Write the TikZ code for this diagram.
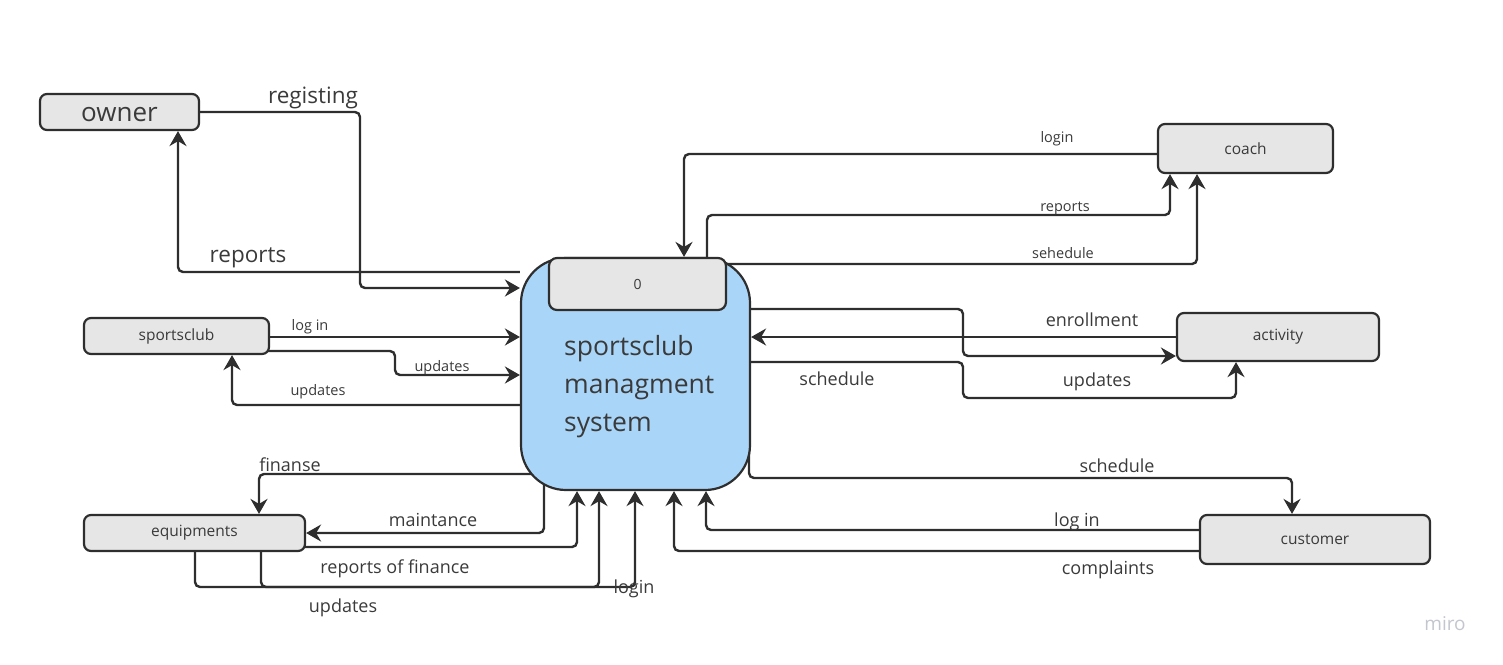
\documentclass[tikz,border=0pt]{standalone}
\usepackage{fontspec}
\setmainfont{Open Sans}
\usetikzlibrary{arrows.meta,backgrounds}
\definecolor{ln}{HTML}{2E2E2E}
\definecolor{boxgray}{HTML}{E6E6E6}
\definecolor{mainblue}{HTML}{A9D6F8}
\definecolor{txt}{HTML}{3A3A3A}
\definecolor{wm}{HTML}{C4C6CF}
\newcommand{\fsz}[1]{\fontsize{#1}{#1}\selectfont}
\begin{document}
\begin{tikzpicture}[x=1pt,y=-1pt,
  ent/.style={draw=ln, line width=2.2pt, fill=boxgray, rounded corners=7pt, inner sep=0pt, text=txt},
  flow/.style={draw=ln, line width=2.4pt, rounded corners=5pt, -{Stealth[length=15pt,width=17pt,inset=5pt]}},
  lbl/.style={text=txt, inner sep=0pt},
  big/.style={lbl, font=\fsz{22.5}},
  med/.style={lbl, font=\fsz{18}},
  sml/.style={lbl, font=\fsz{14.5}},
  ntx/.style={font=\fsz{15.5}}]
\useasboundingbox (0,0) rectangle (1503,664);

% entities
\node[ent, minimum width=159pt, minimum height=36pt, font=\fsz{26}, text height=20pt] (owner) at (119.5,112) {owner};
\node[ent, minimum width=175pt, minimum height=49pt, ntx] (coach) at (1245.5,148.5) {coach};
\node[ent, minimum width=202pt, minimum height=48pt, ntx] (activity) at (1278,337) {activity};
\node[ent, minimum width=185pt, minimum height=36pt, ntx] (sportsclub) at (176.5,336) {sportsclub};
\node[ent, minimum width=221pt, minimum height=36pt, ntx] (equipments) at (194.5,533) {equipments};
\node[ent, minimum width=230pt, minimum height=49pt, ntx] (customer) at (1315,539.5) {customer};

% main process
\node[draw=ln, line width=2.2pt, fill=mainblue, rounded corners=45pt, minimum width=229pt, minimum height=232pt, inner sep=0pt] (main) at (635.5,374) {};
\node[ent, minimum width=177pt, minimum height=52pt, rounded corners=8pt, font=\fsz{14}] (zero) at (637.5,284) {0};
\node[lbl, font={\fontsize{26.5}{38}\selectfont}, align=left, anchor=base west, text=txt] (maintext) at (564,431)
  {sportsclub\\managment\\system};

\begin{scope}[on background layer]
% owner
\draw[flow] (owner.east) -| (360,288) -- (main.west |- 0,288);
\draw[flow] (main.west |- 0,272) -| (owner.south -| 178,0);
% coach
\draw[flow] (coach.center |- 0,154) -| (zero.north -| 684,0);
\draw[flow] (zero.center -| 707,0) |- (1170,215) -- (coach.south -| 1170,0);
\draw[flow] (zero.center |- 0,264) -| (coach.south -| 1197,0);
% activity
\draw[flow] (main.center |- 0,309) -| (963,356) -- (activity.west |- 0,356);
\draw[flow] (activity.center |- 0,337) -- (main.east |- 0,337);
\draw[flow] (main.center |- 0,362) -| (963,398) -| (activity.south -| 1236,0);
% sportsclub
\draw[flow] (sportsclub.center |- 0,337) -- (main.west |- 0,337);
\draw[flow] (sportsclub.center |- 0,351) -| (395,375) -- (main.west |- 0,375);
\draw[flow] (main.center |- 0,405) -| (sportsclub.south -| 232,0);
% equipments
\draw[flow] (main.center |- 0,474) -| (equipments.north -| 259,0);
\draw[flow] (main.center -| 544,0) |- (equipments.east |- 0,533);
\draw[flow] (equipments.center |- 0,547) -| (main.south -| 577,0);
\draw[flow] (equipments.center -| 261,0) |- (599,587) -- (main.south -| 599,0);
\draw[flow] (equipments.center -| 195,0) |- (635,587) -- (main.south -| 635,0);
% customer
\draw[flow] (customer.center |- 0,530) -| (main.south -| 706,0);
\draw[flow] (customer.center |- 0,551) -| (main.south -| 674,0);
\draw[flow] (main.center -| 749,0) -- (749,478) -| (customer.north -| 1292,0);
\end{scope}

% labels
\node[big] (l1) at (313,98) {registing};
\node[big] (l2) at (248,258) {reports};
\node[sml] (l3) at (1057,139) {login};
\node[sml] (l4) at (1065,208) {reports};
\node[sml] (l5) at (1063,253) {sehedule};
\node[med] (l6) at (1092,320) {enrollment};
\node[med] (l7) at (1097,382) {updates};
\node[med] (l8) at (837,379) {schedule};
\node[sml] (l9) at (310,327) {log in};
\node[sml] (l10) at (442,368) {updates};
\node[sml] (l11) at (318,392) {updates};
\node[med] (l12) at (290,465) {finanse};
\node[med] (l13) at (433,520) {maintance};
\node[med] (l14) at (395,569) {reports of finance};
\node[med] (l15) at (343,608) {updates};
\node[med] (l16) at (634,589) {login};
\node[med] (l17) at (1077,522) {log in};
\node[med] (l18) at (1108,570) {complaints};
\node[med] (l19) at (1117,466) {schedule};
\node[lbl, font=\fsz{19}, text=wm] (miro) at (1445,624) {miro};
\end{tikzpicture}
\end{document}
